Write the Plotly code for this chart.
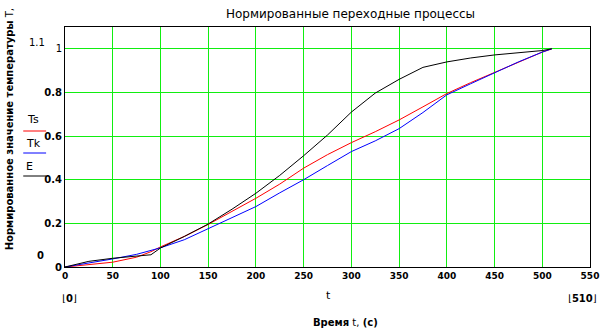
import plotly.graph_objects as go

t = [0, 25, 50, 75, 90, 100, 125, 150, 175, 200, 225, 250, 275, 300, 325, 350, 375, 400, 425, 450, 475, 500, 510]
Ts = [0, 0.010, 0.022, 0.045, 0.070, 0.092, 0.14, 0.195, 0.255, 0.315, 0.38, 0.453, 0.515, 0.57, 0.62, 0.674, 0.734, 0.795, 0.845, 0.891, 0.94, 0.985, 1.0]
Tk = [0, 0.018, 0.037, 0.058, 0.075, 0.088, 0.125, 0.175, 0.225, 0.277, 0.34, 0.40, 0.465, 0.529, 0.578, 0.634, 0.708, 0.789, 0.84, 0.891, 0.94, 0.985, 1.0]
E = [0, 0.026, 0.040, 0.050, 0.056, 0.087, 0.14, 0.197, 0.265, 0.338, 0.42, 0.51, 0.605, 0.71, 0.797, 0.86, 0.915, 0.94, 0.958, 0.972, 0.982, 0.992, 1.0]

x_ticks = [0, 50, 100, 150, 200, 250, 300, 350, 400, 450, 500, 550]
y_ticks = [0, 0.2, 0.4, 0.6, 0.8, 1]
y_ticktext = ["<b>0</b>", "<b>0.2</b>", "<b>0.4</b>", "<b>0.6</b>", "<b>0.8</b>", "1"]

W, H = 611, 330
L, R, T, B = 65, 18, 27, 63

def px(xp):
    return (xp - L) / (W - L - R)

def py(yp):
    return (H - B - yp) / (H - T - B)

fig = go.Figure()
fig.add_trace(go.Scatter(x=t, y=Ts, mode="lines", line=dict(color="#ff0000", width=1), name="Ts"))
fig.add_trace(go.Scatter(x=t, y=Tk, mode="lines", line=dict(color="#0000ff", width=1), name="Tk"))
fig.add_trace(go.Scatter(x=t, y=E, mode="lines", line=dict(color="#000000", width=1), name="E"))

gridc = "#11ee11"
fig.update_layout(
    width=W, height=H,
    margin=dict(l=L, r=R, t=T, b=B),
    paper_bgcolor="white", plot_bgcolor="white",
    showlegend=False,
    font=dict(family="DejaVu Sans", size=10, color="black"),
    xaxis=dict(range=[0, 550], tickvals=x_ticks, ticktext=["<b>%d</b>" % v for v in x_ticks],
               showgrid=True, gridcolor=gridc, gridwidth=1, zeroline=False,
               showline=True, linecolor="black", linewidth=1, mirror=True, ticks="",
               tickfont=dict(family="DejaVu Sans", size=9)),
    yaxis=dict(range=[0, 1.1], tickvals=y_ticks, ticktext=y_ticktext,
               showgrid=True, gridcolor=gridc, gridwidth=1, zeroline=False,
               showline=True, linecolor="black", linewidth=1, mirror=True, ticks="",
               tickfont=dict(family="DejaVu Sans", size=10)),
)

ann = [
    dict(text="Нормированные переходные процессы", x=px(352), y=py(14), size=12),
    dict(text="1.1", x=px(37), y=py(42), size=10),
    dict(text="<b>0</b>", x=px(40), y=py(255), size=10),
    dict(text="⌊<b>0</b>⌋", x=px(70), y=py(298), size=10),
    dict(text="t", x=px(330), y=py(295), size=11),
    dict(text="⌊<b>510</b>⌋", x=px(585), y=py(298), size=10),
    dict(text="<b>Время</b> t, <b>(с)</b>", x=px(347), y=py(322), size=10),
    dict(text="Ts", x=px(33), y=py(120), size=11),
    dict(text="Tk", x=px(33), y=py(143), size=11),
    dict(text="E", x=px(29), y=py(166), size=11),
]
for a in ann:
    fig.add_annotation(text=a["text"], x=a["x"], y=a["y"], xref="paper", yref="paper",
                       showarrow=False, xanchor="center", yanchor="middle",
                       font=dict(family="DejaVu Sans", size=a["size"], color="black"))

fig.add_annotation(text="<b>Нормированное значение температуры</b> T,", x=px(9), y=py(252),
                   xref="paper", yref="paper", showarrow=False, textangle=-90,
                   xanchor="center", yanchor="bottom",
                   font=dict(family="DejaVu Sans", size=10, color="black"))

for (yp, col) in [(131, "#ff0000"), (153, "#0000ff"), (176, "#000000")]:
    fig.add_shape(type="line", xref="paper", yref="paper", x0=px(23), x1=px(46), y0=py(yp), y1=py(yp),
                  line=dict(color=col, width=1))

fig.write_html("out.html")
